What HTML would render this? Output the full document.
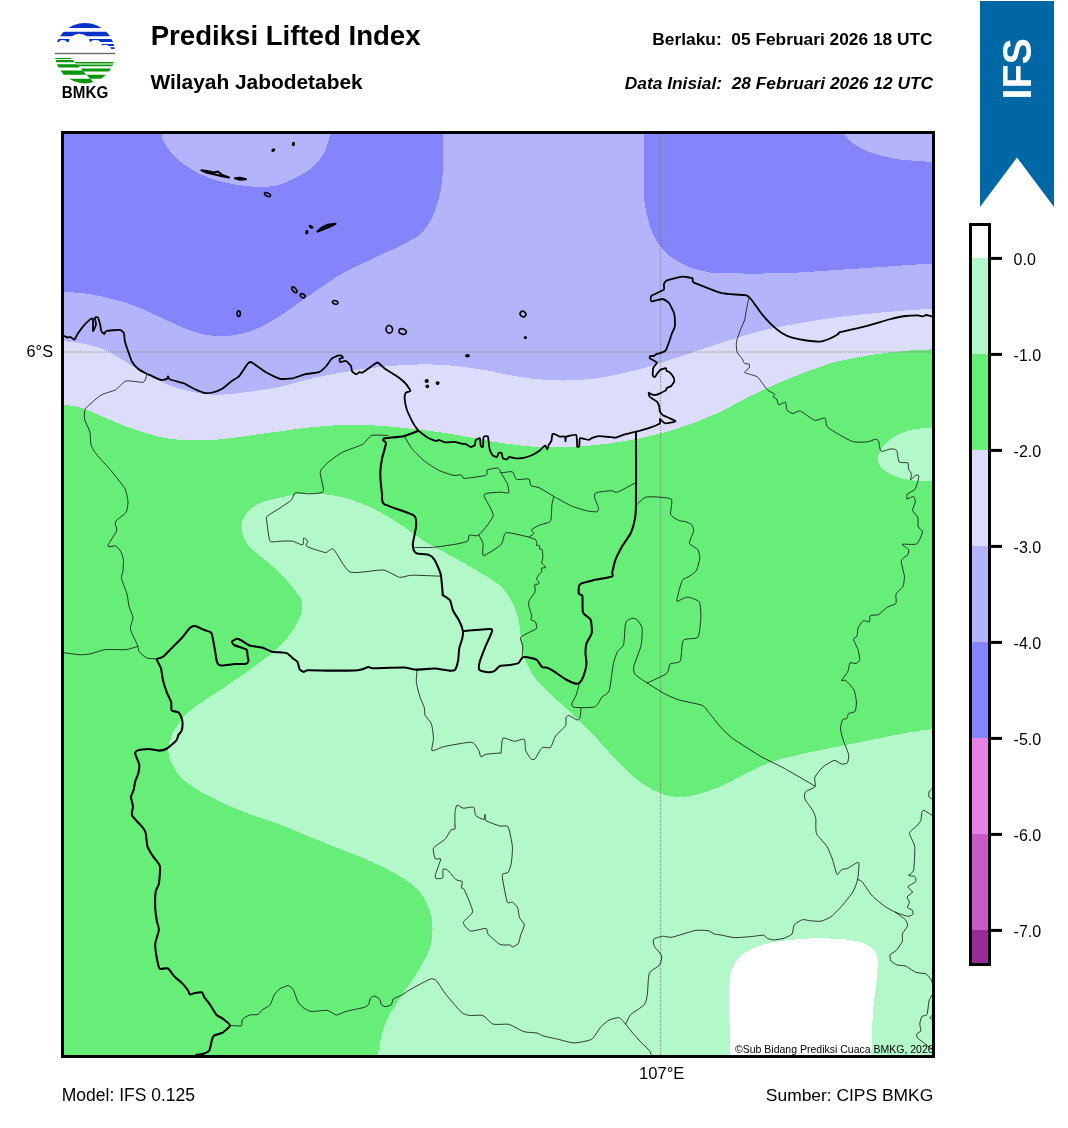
<!DOCTYPE html>
<html lang="id"><head><meta charset="utf-8"><title>Prediksi Lifted Index - Wilayah Jabodetabek</title>
<style>
html,body{margin:0;padding:0;background:#fff;}
body{width:1068px;height:1128px;position:relative;overflow:hidden;font-family:"Liberation Sans",sans-serif;}
svg text{font-family:"Liberation Sans",sans-serif;}
</style></head><body>
<svg width="1068" height="1128" viewBox="0 0 1068 1128" style="position:absolute;left:0;top:0">
<defs><clipPath id="mc"><rect x="64" y="134" width="868" height="921"/></clipPath></defs>
<g clip-path="url(#mc)">
<g shape-rendering="crispEdges">
<rect x="64" y="134" width="868" height="921" fill="#b4b4fc"/>
<path fill="#8484fc" d="M442.7,134C442.7,140.2 443,161.7 442.7,171C442.4,180.3 442.1,182.8 440.7,189.7C439.3,196.6 437.6,205.3 434.5,212.4C431.4,219.5 427.1,227.2 422,232.5C416.9,237.8 410.1,240.6 403.6,244.2C397.1,247.8 389.9,250.6 383,253.8C376.1,257 369.3,260.2 362.4,263.5C355.5,266.8 348.7,269.7 341.8,273.7C334.9,277.7 328.1,282.7 321.2,287.3C314.3,291.9 307.5,296.7 300.6,301.5C293.7,306.3 287.5,311.3 280,315.9C272.5,320.5 263.2,326.1 255.7,329.3C248.2,332.5 241.9,333.9 235,335C228.1,336.1 221.3,336.5 214.5,336C207.7,335.5 200.9,333.9 194,331.8C187.1,329.7 180.2,326.2 173.3,323.2C166.4,320.2 159.6,316.8 152.7,313.7C145.8,310.6 138.9,307.2 132,304.7C125.1,302.2 118.3,300.5 111.5,298.8C104.7,297.1 98.9,295.5 91,294.3C83.1,293.1 68.5,292.1 64,291.7L64,134Z"/>
<path fill="#b4b4fc" d="M162,134C162.2,135 161.5,136.9 163,140C164.5,143.1 167.6,148.7 171,152.7C174.4,156.7 178.8,160.4 183.6,164C188.4,167.6 193.8,171.1 200,174C206.2,176.9 213.1,179.5 220.7,181.5C228.3,183.5 237.8,185.2 245.4,186C253,186.8 260.2,186.8 266,186.6C271.8,186.4 274.2,186.5 280,184.6C285.8,182.7 294.8,178.6 300.6,175.3C306.4,172 310.9,169.1 315,165C319.1,160.9 322.8,155.8 325.3,150.6C327.8,145.4 329.4,136.8 330.2,134Z"/>
<path fill="#8484fc" d="M643.8,134C643.8,143.6 643.2,178.1 643.8,191.8C644.4,205.6 645.7,209.3 647.3,216.5C648.9,223.7 650.9,229.5 653.5,235C656.1,240.5 659.1,245.4 662.7,249.5C666.3,253.6 670.2,256.7 675,259.8C679.8,262.9 686.4,266.1 691.6,268C696.8,269.9 701.3,270.6 706,271.5C710.7,272.4 707.4,272.9 720,273.2C732.6,273.5 761.2,273.8 781.8,273.2C802.4,272.6 824.7,270.7 843.6,269.5C862.5,268.3 880.3,267 895,266C909.7,265 925.8,263.9 932,263.5L932,134Z"/>
<path fill="#b4b4fc" d="M843.6,134C845,135.4 847.7,139.5 851.8,142.4C855.9,145.3 861.1,148.9 868.3,151.6C875.5,154.3 884.4,157.1 895,158.8C905.6,160.5 925.8,161.5 932,162L932,134Z"/>
<path fill="#dcdcfc" d="M64,341.2C66.8,341.6 74.4,342.1 80.6,343.3C86.8,344.5 95.4,346.3 101.2,348.4C107,350.4 111.5,353.3 115.6,355.6C119.7,357.9 121.5,359.2 126,362C130.5,364.8 136.2,368.9 142.4,372.3C148.6,375.7 156.1,379.7 163,382.6C169.9,385.5 176.7,387.9 183.6,389.8C190.5,391.7 197.3,393.2 204.2,394C211.1,394.8 216.2,395 224.8,394.5C233.4,394 246.5,392.1 255.7,390.8C264.9,389.5 269.1,389.1 280,386.7C290.9,384.3 307.5,379.3 321.2,376.4C334.9,373.5 348.7,371.1 362.4,369.2C376.1,367.3 389.9,365.7 403.6,365C417.3,364.3 431.1,364.1 444.8,365C458.5,365.9 476.8,368.8 486,370.2C495.2,371.6 492.5,371.9 500,373.3C507.5,374.7 520.7,377.3 531,378.5C541.3,379.7 551.5,380.4 561.8,380.5C572.1,380.6 582.4,380 592.7,378.8C603,377.6 613.7,375.4 623.6,373.2C633.5,371 643.9,368.2 652.4,365.7C660.9,363.2 667.4,360.7 674.9,358.2C682.4,355.7 689.9,353.2 697.4,350.7C704.9,348.2 709.4,346.5 720,343.2C730.6,339.9 747.5,334.2 761.2,330.8C774.9,327.4 788.7,325 802.4,322.6C816.1,320.2 828.2,318.3 843.6,316.4C859,314.5 880.3,312.6 895,311.3C909.7,310 925.8,309.2 932,308.8L932,1055L64,1055Z"/>
<path fill="#66ee78" d="M64,404.6C66.8,405.1 74.4,405.8 80.6,407.7C86.8,409.6 94.3,413.1 101.2,416C108.1,418.9 114.9,422.1 121.8,424.8C128.7,427.5 135.5,429.9 142.4,432C149.3,434.1 156.1,436.3 163,437.6C169.9,438.9 175,439.5 183.6,439.9C192.2,440.3 204.2,440.5 214.5,439.9C224.8,439.3 234.5,437.6 245.4,436.2C256.3,434.8 267.4,432.9 280,431.3C292.6,429.7 307.5,427.4 321.2,426.3C334.9,425.2 348.7,424.5 362.4,424.8C376.1,425.1 389.9,426.5 403.6,427.9C417.3,429.3 431.1,430.9 444.8,433C458.5,435.1 476.8,438.7 486,440.3C495.2,441.9 492.5,441.8 500,442.8C507.5,443.8 520.7,445.8 531,446.5C541.3,447.2 551.5,447.2 561.8,447C572.1,446.8 582.4,446.3 592.7,445.4C603,444.4 613.3,443 623.6,441.3C633.9,439.6 644.2,437.6 654.5,435C664.8,432.4 674.5,429.7 685.4,425.9C696.3,422.1 710.8,416.1 720,412C729.2,407.9 733.7,404.5 740.6,401C747.5,397.5 754.3,394 761.2,390.8C768.1,387.6 774.9,384.5 781.8,381.6C788.7,378.7 795.5,375.9 802.4,373.3C809.3,370.7 816.8,368.1 823,366C829.2,363.9 830.9,362.9 839.5,361C848.1,359.1 863.5,356.2 874.5,354.5C885.5,352.8 895.8,351.7 905.4,350.8C915,349.9 927.6,349.6 932,349.4L932,1055L64,1055Z"/>
<path fill="#b2f8c8" d="M932,729C927.6,729.7 915,731.3 905.4,733C895.8,734.7 884.8,737.1 874.5,739.2C864.2,741.3 853.9,743.3 843.6,745.4C833.3,747.5 823,749.4 812.7,751.6C802.4,753.8 790.4,756.4 781.8,758.8C773.2,761.2 768.1,763.1 761.2,766C754.3,768.9 747.5,772.9 740.6,776.3C733.7,779.7 727.5,783.5 720,786.6C712.5,789.7 703.2,793.1 695.7,794.8C688.2,796.5 681.9,797.6 675,796.9C668.1,796.2 661.4,794 654.5,790.7C647.6,787.4 640.8,783 633.9,777.3C627,771.6 620.2,763.9 613.3,756.7C606.4,749.5 599.6,741.2 592.7,734C585.8,726.8 578.5,719.7 572,713.5C565.5,707.3 559.4,702.5 553.6,697C547.8,691.5 541.5,686 537,680.5C532.5,675 529.4,669.8 526.8,664C524.2,658.2 522.8,652 521.6,645.5C520.4,639 520.8,631.4 519.6,624.9C518.4,618.4 516.5,611.5 514.4,606.4C512.3,601.2 509.6,597.5 507.2,594C504.8,590.5 503.5,588.5 500,585.5C496.5,582.5 491.8,579.8 486,576.2C480.2,572.6 472.3,567.9 465.4,563.9C458.5,559.9 451.7,556.3 444.8,552.5C437.9,548.7 431.1,545.5 424.2,541.2C417.3,536.9 410.5,531.1 403.6,526.5C396.7,521.9 389.9,517.6 383,513.8C376.1,510 369.3,506.5 362.4,503.7C355.5,500.9 348.7,498.6 341.8,497C334.9,495.4 328.1,494.3 321.2,493.8C314.3,493.3 307.5,493.2 300.6,493.8C293.7,494.4 287.1,495.8 280,497.5C272.9,499.2 263.6,501.2 257.8,504C252,506.8 248.2,510.6 245.4,514.4C242.7,518.2 241.3,522.3 241.3,526.8C241.3,531.3 243,536.9 245.4,541.2C247.8,545.5 249.9,547.2 255.7,552.5C261.5,557.8 273,566.1 280,573C287,579.9 293.9,589.1 297.5,594C301.1,598.9 301.1,598.8 301.6,602.2C302.1,605.6 302.1,609.8 300.6,614.6C299.1,619.4 295.8,625.9 292.4,631C289,636.1 286.1,639.7 280,645.5C273.9,651.3 264.9,658.7 255.7,665.6C246.5,672.5 235.1,680 224.8,687C214.5,694 201.7,701.5 193.9,707.8C186.1,714 181.9,718.8 177.8,724.5C173.7,730.2 170.6,736.9 169.2,742.3C167.8,747.7 167.8,751.6 169.2,756.7C170.6,761.9 173.3,768.1 177.4,773.2C181.5,778.4 186,782.5 193.9,787.6C201.8,792.7 214.5,799.2 224.8,804C235.1,808.8 246.5,813.1 255.7,816.5C264.9,819.9 272.5,821.7 280,824.5C287.5,827.3 293.7,830.4 300.6,833.2C307.5,836 314.3,838.6 321.2,841.4C328.1,844.1 334.9,847 341.8,849.7C348.7,852.5 355.5,855 362.4,857.9C369.3,860.8 376.1,863.8 383,867.2C389.9,870.6 397.8,874.7 403.6,878.5C409.4,882.3 414.1,885.6 418,889.9C421.9,894.2 425,899.1 427.3,904.3C429.6,909.4 431.2,915.3 432,920.8C432.8,926.3 432.6,932.1 432,937.2C431.4,942.4 430.3,946.6 428.3,951.7C426.3,956.8 423.4,962.2 420,968C416.6,973.8 411.8,980.5 407.7,986.7C403.6,992.9 399,999.4 395.4,1005.2C391.8,1011 388.4,1016.2 386,1021.7C383.6,1027.2 382.4,1032.7 381,1038.2C379.6,1043.8 378.3,1052.2 377.8,1055L932,1055Z"/>
<path fill="#b2f8c8" d="M932,428C929.3,428.2 921.2,428 915.7,429C910.2,430 904.4,431.4 899.2,434C894.1,436.6 888.4,440.3 884.8,444.4C881.2,448.5 878,454.7 877.6,458.8C877.2,462.9 879.8,466.1 882.7,469C885.6,471.9 890.2,474.4 895,476.3C899.8,478.2 905.4,479.6 911.6,480.4C917.8,481.2 928.6,480.9 932,481Z"/>
<path fill="#ffffff" d="M730.3,1055C730.1,1047.7 729.5,1023.5 729.3,1011.4C729.1,999.3 728.8,989.8 729.3,982.6C729.8,975.4 730.5,972.5 732.4,968C734.3,963.5 736.8,959.2 740.6,955.8C744.4,952.4 748.8,949.9 755,947.5C761.2,945.1 769.8,942.8 777.7,941.4C785.6,940 794.9,939.4 802.4,938.9C809.9,938.4 815.5,938.2 823,938.3C830.5,938.4 840.8,938.9 847.7,939.7C854.6,940.6 859.9,941.8 864.2,943.4C868.5,945 871.3,946.9 873.5,949.6C875.7,952.4 877.1,954.8 877.6,959.9C878.1,965 877.3,973 876.6,980.5C875.9,988 874.3,996.6 873.5,1005.2C872.7,1013.8 872.4,1023.7 872,1032C871.6,1040.3 871.5,1051.2 871.4,1055Z"/>
</g>
<path d="M64,352H932M660.5,134V1055" fill="none" stroke="#707070" stroke-width="1.2" stroke-dasharray="1 1" opacity="0.7"/>
<g fill="none" stroke="#0a0a0a" stroke-width="0.8" stroke-linejoin="round" stroke-linecap="round">
<path d="M748.8,298C748.5,299.4 746.4,309.8 746,312C745.6,314.2 745.1,318.3 744.6,320C744.1,321.7 741.5,327.1 740.8,329C740,330.9 737.6,338 737.1,339.5C736.6,341 736.3,342.7 736.3,344C736.3,345.3 736.5,350.7 737.1,352.2C737.7,353.7 741.5,357.9 742.3,359C743,360.1 743.9,362.9 744.6,363.4C745.3,363.9 748.6,363.7 749.1,364.2C749.6,364.7 749.6,367.2 749.1,368C748.6,368.8 744.4,371.7 744.6,372.4C744.8,373.1 750,374.2 751.3,374.7C752.6,375.2 756.4,375.9 758,377.4C759.6,378.9 765.7,388.1 767.4,389.8C769.1,391.5 774,393.3 774.6,394C775.2,394.7 772.8,396.5 773,397C773.2,397.5 776,398.2 776.6,399C777.2,399.8 777.8,404.5 778.7,404.8C779.6,405.1 784.7,401.6 785.5,402.2C786.3,402.8 786.2,409.3 787,410.4C787.8,411.5 791.7,413.4 793,413.5C794.3,413.6 798.1,410.3 800.3,411C802.5,411.7 812.3,419.6 814.8,420.3C817.3,421 823.7,417.3 825,418C826.3,418.7 825.3,425.2 828,427.5C830.7,429.8 847.9,439.9 851.8,441.3C855.7,442.7 864.9,442.1 867.3,441.9C869.7,441.7 874.4,439.3 875.5,439.2C876.6,439.1 878.1,440.1 878.6,441.3C879.1,442.5 879.8,450.4 881,451.2C882.2,452 889.4,449 891,448.9C892.6,448.8 895.9,449.3 896.7,450.6C897.5,451.9 898.1,460.7 899.2,461.9C900.3,463.1 907,462.2 907.9,462.9C908.8,463.6 908.1,467.9 908.5,469C908.9,470.1 911.4,473.2 911.6,474.3C911.8,475.4 910.1,479.7 910.5,479.8C910.9,479.9 914.9,475.7 915.7,475.3C916.5,474.9 918.6,475.1 918.8,475.7C919,476.3 918.2,480.1 917.8,481.5C917.4,482.9 915.7,488.5 914.7,489.7C913.7,490.9 908.3,492.9 907.5,493.8C906.7,494.7 906.4,498.7 907,499C907.6,499.3 912.8,496.2 913.6,496.5C914.4,496.8 915.4,500.6 915.3,502C915.2,503.4 912.4,508.8 912.6,510.3C912.9,511.9 917.2,515.9 917.8,517.5C918.4,519.1 917.7,525.3 918.2,526.8C918.7,528.2 922.6,530.3 922.5,532C922.4,533.7 918.7,542.7 916.7,543.9C914.7,545.1 903.1,543.7 902.3,544.3C901.5,544.9 907.9,548.5 908.5,549.5C909.1,550.5 908.6,553.5 907.9,554.6C907.2,555.7 901.6,558.6 901.3,560.8C900.9,563 904.2,573.6 904.4,576.2C904.6,578.8 903.7,584.7 902.9,586.5C902.1,588.3 896.7,592.3 896,594C895.3,595.7 896.9,602 896,603.3C895.1,604.6 888.6,606.3 886.9,607.4C885.2,608.5 880.2,613.8 878.6,614.6C877,615.4 871.3,614.9 870.4,615.6C869.5,616.3 870,621.3 869.3,621.8C868.6,622.3 864.3,620.2 863.2,620.8C862.1,621.4 858.6,626.5 858,628C857.4,629.5 857.5,635.1 857,636.2C856.5,637.3 853.4,638 853.5,639.3C853.6,640.6 857.4,647.5 858,649.6C858.6,651.7 859.9,658.5 859.7,659.9C859.5,661.3 857,663.1 856,663.4C855,663.7 850.6,662.2 849.8,663C849,663.8 848.8,669.5 848,671.2C847.2,673 841.7,679.6 841.5,680.5C841.3,681.4 844.5,679.6 845.7,680.5C846.9,681.4 852.8,687.6 853.9,689.8C855,691.9 856.3,699.8 856.4,702C856.5,704.2 855.8,710.2 855,711.4C854.2,712.5 849.5,712.8 848.7,713.5C847.9,714.2 847.3,718 846.7,718.6C846.1,719.2 843.2,718.7 842.6,719.7C842,720.7 840.4,726.7 840.5,728.9C840.6,731.1 842.8,738.7 843.6,741.3C844.4,743.9 848.3,752.5 848.7,754.7C849.1,756.9 848,762 847.3,762.9C846.6,763.8 842.8,764.2 841.5,764C840.2,763.8 836.1,760.1 834.3,760.4C832.4,760.7 825,765.3 823,767C821,768.7 815.6,775.3 814.8,777.3C814,779.3 816.1,785.1 815.2,786.6C814.3,788.1 806.5,790.6 805.5,791.8C804.5,793 804.2,797.1 804.9,799C805.6,800.9 811.6,808.3 812.7,810.3C813.8,812.2 815.5,816.9 815.8,818.5C816.1,820.1 815.7,824.4 815.8,826C815.9,827.6 815.7,832.1 816.8,834.2C817.9,836.3 825.5,844.1 827,846.6C828.5,849.1 831.3,856.2 832.3,859C833.3,861.8 836.1,873.3 837,874.4C837.9,875.5 840.4,870.3 841.5,869.7C842.6,869.1 846.2,868.9 847.7,868.2C849.2,867.5 855.9,863.1 857,862.7C858.1,862.3 858.9,862.3 859,864C859.1,865.7 858.2,876.8 857.6,879.6C857,882.4 854.5,889.2 852.9,891.9C851.3,894.6 843.7,903.8 841.5,906.3C839.3,908.8 833.2,915.1 831.2,916.6C829.2,918.1 823.1,920.8 821,921.2C818.9,921.6 812.5,920.9 810.6,920.8C808.7,920.6 804,919.3 802.4,919.7C800.8,920.1 795.2,923.5 794.2,924.9C793.2,926.3 793,932.7 792,934C791,935.3 785.7,937.7 783.9,938.3C782.1,938.9 775.2,939.9 773.6,939.9C772,939.9 768.4,938.8 767.4,938.3C766.4,937.8 764.9,935.4 763.3,935.2C761.6,935 753.8,936.4 750.9,936.6C748,936.8 737.5,937.8 734.4,937.6C731.3,937.4 722,935.2 720,934.8C718,934.4 715.4,934.4 714.2,934C713,933.6 710,930.9 708,930.6C706,930.3 698.3,929.9 694.7,930.6C691.1,931.3 675.2,936.6 672,937.2C668.8,937.8 664.6,936 662.7,936.2C660.9,936.4 654.3,938.3 653.5,939.3C652.7,940.3 653.7,944.9 654.5,946.5C655.3,948.1 661.2,953.9 661.7,955.8C662.2,957.6 660.8,963.2 659.6,965C658.4,966.8 650.5,970.3 649.3,973.3C648.1,976.3 647.8,991.8 647.3,994.9C646.8,998 645.9,1002.8 644.2,1004.8C642.6,1006.8 632.6,1012.6 630.8,1014.5C628.9,1016.4 626.2,1023.2 625.7,1024.2M146.5,375.4C146.2,376.1 145.5,381.6 143.4,382.2C141.3,382.8 128.8,380.2 126,381C123.2,381.8 118.1,388.4 115.6,389.8C113.1,391.2 103.9,393.4 101.2,395C98.5,396.6 90.5,403.8 88.8,405.3C87.1,406.8 85.1,409 84.7,410.4C84.3,411.8 84.2,417.5 84.7,419.7C85.2,421.9 89.3,429.5 89.9,432C90.5,434.5 90.3,442.2 90.9,444.4C91.5,446.6 93.9,451 96,453.7C98.1,456.4 108.6,467.7 111.5,471.2C114.4,474.7 123.2,485.6 124.9,488.7C126.6,491.8 127.9,499.6 128,502C128.1,504.4 127.1,510.6 126,512.4C124.9,514.2 117.7,519.1 116.6,520.2C115.5,521.3 115.2,522.6 115.2,523.7C115.2,524.8 117.3,528.8 116.6,530.9C115.9,533 109.2,542.7 108.4,544.3C107.6,545.9 108.3,546.6 109,546.8C109.7,547 114.4,545.5 115.6,546C116.8,546.5 120,550.1 120.8,551.5C121.6,552.9 123.2,557.8 123.4,559.8C123.6,561.8 123,570.1 122.8,572C122.6,573.9 121,576.1 121.4,578.3C121.8,580.5 126.2,591.2 127,594C127.8,596.8 128.4,604 129,606.4C129.6,608.8 132.9,615.4 133,617.7C133.1,620 130,626.3 130.4,629C130.8,631.7 136.3,642.2 137.2,644.5C138.1,646.8 138.4,650.4 139.3,651.7C140.2,653 144.8,657.2 146.5,657.9C148.2,658.6 155.8,658.8 156.8,658.9M137.2,646.5C136.1,646.8 129.2,649.3 126,649.6C122.8,649.9 108.8,649.2 105.3,649.6C101.8,650 93.4,653.2 90.9,653.7C88.4,654.2 83.3,654.9 80.6,654.8C77.9,654.7 65.7,652.9 64,652.7M388,435.5C386.4,435.5 374.3,434.6 371.7,435.5C369.1,436.4 365.4,442.7 362.4,444.4C359.4,446.1 345.3,450.7 341.8,452.6C338.3,454.5 329.6,461 327.4,463C325.2,465 320.6,469.4 320.2,472.2C319.8,475 324.4,489.2 323.3,491.4C322.2,493.6 311.6,493.7 308.8,493.8C306,493.9 297.1,492.2 295.4,492.8C293.6,493.4 292.8,498.5 291.3,500C289.8,501.5 282.4,506.4 280,508C277.6,509.6 268.3,515 267,516.5C265.7,518 266.7,520.2 267,522.7C267.3,525.2 268.7,539.1 270,541C271.3,542.9 277.8,541.2 280,541.2C282.2,541.2 290.1,540.8 292.4,541.2C294.7,541.6 301.6,545.3 302.7,545C303.8,544.7 303.2,538.4 303.7,538C304.2,537.6 307.5,540.4 307.8,541.2C308.1,542 305.1,545.3 306.8,546.4C308.6,547.5 322.6,552.2 325.3,552.5C328,552.8 331.1,547.4 333.6,549.4C336.1,551.4 345.1,569.9 350,572C354.9,574.1 378.1,569.5 383,570C387.9,570.5 396.6,576.8 399.5,577.3C402.4,577.8 407.7,575.3 411.8,575.2C415.9,575.1 437.8,576.1 440.7,576.2M404.6,436.6C405.3,437.8 409.8,446.1 411.8,448.5C413.8,450.9 421.5,458.7 424.2,460.9C426.9,463.1 435.7,468.8 438.6,470.2C441.5,471.6 450.7,474.8 453,475.3C455.3,475.8 460.2,474.6 461.3,474.9C462.4,475.2 461.9,478.4 464.4,478.4C466.9,478.4 483.7,476.1 486,475.3C488.3,474.5 485.9,470.7 487,470C488.1,469.3 496,468 497.3,468C498.6,468 499.6,469.5 500,470C500.4,470.5 499.8,472.6 501,472.8C502.2,473 510.8,471.1 512.4,471.8C513.9,472.5 514.9,478.7 516.5,479.4C518.1,480.1 527.4,478.4 528.8,479C530.2,479.6 529.9,484.7 530.9,485.6C531.9,486.5 536.6,486.6 539,487.7C541.4,488.8 552.7,495.8 554.6,496.9C556.5,498 556,497.7 557.7,498.6C559.4,499.5 569.1,505 572,506.2C574.9,507.4 584,510.1 586.5,510.7C589,511.3 595.6,512 596.8,511.8C598,511.6 598.7,509.7 598.5,508.3C598.3,506.9 595.1,499.6 594.8,498C594.5,496.4 594.2,493.5 595.8,492.8C597.4,492.1 609,490.8 611.2,490.7C613.4,490.6 615,493 617.4,492.2C619.8,491.4 633.2,483.9 635,483M501,472.8C501.6,473.9 506.4,481.5 507.2,483.5C508,485.5 509.4,491.9 508.7,492.8C508,493.7 502.5,492 500,492.2C497.5,492.4 484.7,492.6 484,494.9C483.3,497.2 493.7,511.5 493.2,515.5C492.7,519.5 481.2,533 478.8,535C476.4,537 470.6,534.4 469.5,535C468.4,535.6 468.9,540.3 467.5,541.2C466.1,542.1 458.5,543.7 455,544.3C451.5,544.9 436.4,547.1 432.4,547.4C428.4,547.7 416.7,547.4 415,547.4M478.8,535C479.2,535.8 482.5,541.2 483,543.3C483.5,545.4 481.7,555.5 483.5,555.6C485.3,555.7 498.7,546.9 501,544.6C503.3,542.3 503.4,533.4 506.2,532.7C509,532 527.1,536.8 529.4,537.2M553.7,496.7C553.5,497.5 552.2,502.5 551.9,504.9C551.6,507.3 551.7,519.1 550.4,521.1C549.1,523.1 541.1,524.3 539.2,525.2C537.3,526.1 532.2,528.9 531.7,529.7C531.2,530.5 533.8,532.9 533.9,533.4C534,533.9 532.9,534.5 532.4,534.9C531.9,535.3 529.1,536.8 529.4,537.2C529.7,537.7 534.6,538.8 535.4,539.4C536.1,540 536.8,542.5 536.9,543.1C537,543.7 536,545.2 536.2,545.4C536.4,545.6 538.8,545 539.2,545.4C539.6,545.8 539.6,548.6 539.9,549.1C540.2,549.6 541.9,549.1 542.2,549.9C542.5,550.7 542.9,556.1 542.9,557.4C542.9,558.7 541.6,561.9 541.7,562.6C541.8,563.4 543.3,564.4 543.7,564.9C544.1,565.4 545.8,567.3 545.6,567.6C545.4,567.9 541.8,567.8 541.4,568.2C541,568.6 542,570.9 541.7,571.6C541.4,572.3 538.9,574.6 538.4,575.4C537.9,576.1 536.5,578.4 536.6,579.1C536.7,579.8 539.1,582.3 539.2,582.8C539.3,583.3 538.2,584.1 537.7,584.3C537.2,584.5 535,583.9 534.7,584.6C534.4,585.4 535.6,590.2 535.1,591.8C534.6,593.3 530,598.8 529.4,600.1C528.8,601.5 528.5,603.7 528.7,605.3C528.9,606.9 531.5,614.4 531.7,615.8C531.9,617.2 530.5,618.9 530.9,619.5C531.3,620.1 534.8,621 535.4,621.8C536,622.6 537,627.1 536.9,627.9C536.8,628.7 535.6,629.1 534,630C532.4,630.9 521.7,635.8 520.6,637.3C519.5,638.8 522.5,643.5 522.7,645.5C522.9,647.5 522.2,655.7 522.2,656.8M637,504.5C637.9,503.8 642.9,497.6 646.3,497C649.7,496.4 668.6,497.3 671,499C673.4,500.7 669.8,512.2 670.6,514.4C671.4,516.6 677.7,519.9 679.2,520.6C680.7,521.3 684.2,521.2 685.4,521.6C686.6,522 690.8,523.8 691.6,524.7C692.4,525.6 693.8,529 693.6,530.9C693.4,532.8 689.1,541.4 689.5,543.3C689.9,545.2 696.8,548.1 697.8,549.5C698.8,550.9 699.9,555.7 699.8,557.7C699.7,559.8 697.7,568.1 696.7,570C695.7,571.9 690.9,575.2 689.5,576.2C688.1,577.2 683.4,578.6 682.3,580.4C681.2,582.2 678.7,591.9 678.2,594C677.7,596.1 676.3,600.9 677.2,601.2C678.1,601.5 685.3,596.9 687.5,597C689.7,597.1 698.1,600 699.4,602.2C700.7,604.4 701,615.2 700.8,618.7C700.6,622.2 699.5,635.1 697.8,637.3C696,639.5 685,637.9 683.3,640.3C681.5,642.7 681.6,658.6 680.3,661C679,663.4 671.3,662.8 670,664C668.7,665.2 669.2,671.4 666.9,673.3C664.6,675.2 649.3,682 647.3,683M579.3,683.6C579,684.7 576.9,693 576.2,695C575.5,697 572.2,702 572,703.2C571.8,704.4 571.9,706.9 574.2,707.3C576.5,707.7 592,707.9 594.8,706.9C597.6,705.9 600.6,698.6 602,697C603.4,695.4 608.1,694.1 609.2,690.8C610.3,687.5 612.5,667.9 613.3,664C614.1,660.1 616.4,653.7 617.4,651.7C618.4,649.8 622.8,647.4 623.6,644.5C624.4,641.6 624.9,625.4 625.7,622.8C626.5,620.2 630.7,618.6 631.8,618.3C632.9,618 636,618.7 637,619.7C638,620.7 641.7,625.4 642.1,628C642.5,630.6 641.9,641.7 641.1,645.5C640.3,649.3 634.5,663.1 633.9,666C633.3,668.9 633.7,672.6 635,674.3C636.3,676 644.3,681 647.3,683C650.3,685 661.6,692.2 664.8,693.9C668,695.6 675.5,698.9 679.2,700C682.9,701.1 699,704.1 701.9,705.2C704.8,706.3 706.2,709.3 708,711.4C709.8,713.5 717.6,723.7 720,726.4C722.4,729.1 728.3,735.2 732.4,738.2C736.5,741.2 756.3,753.8 761.2,756.7C766.1,759.6 776.4,764.1 781.8,767C787.2,769.9 811.5,784.1 814.8,786M581,708.3C580.9,709.2 580.4,716.4 580,717.6C579.6,718.8 578.3,720.2 577.2,720C576.1,719.8 570.1,715.7 569,715.5C567.9,715.3 566.4,716.6 566,717.6C565.6,718.6 566.5,724 565.5,725.8C564.5,727.6 557.1,733.8 555.6,736C554.1,738.2 551.8,746.4 550.5,747.5C549.2,748.6 543.8,746.4 542.2,747.5C540.7,748.6 536.1,757.7 535,758.8C533.9,759.9 531.8,759.6 530.9,758.8C530,758 526.4,752.6 525.7,750.6C525,748.6 525.4,740.1 524.3,739.2C523.2,738.3 516.5,741.4 514.4,741.3C512.3,741.2 504.3,737.1 503,738.2C501.7,739.3 501.3,751.1 501,752.6C500.7,754.1 501.5,752.8 500,753C498.5,753.2 487.9,753.9 486,754.3C484.1,754.7 481.5,757.1 480.8,756.7C480.1,756.3 479.7,752 478.8,750.6C477.9,749.2 475,742.7 471.6,742.3C468.2,741.9 448.8,745.6 444.8,746.4C440.8,747.2 433.1,751.4 432,750.6C430.9,749.8 433.6,740.9 433.5,738.2C433.4,735.5 432.2,726.1 431.4,723.8C430.6,721.5 425.9,717.1 425.2,715.5C424.5,713.9 424.7,709.1 424.2,707.3C423.7,705.4 420.8,699.5 420,697C419.2,694.5 416.7,685.3 416.4,682.6C416.1,679.9 416.9,671.4 417,670.2M455,826C455,824.6 454.8,814.5 455,812.4C455.2,810.3 456.2,805.4 457,805C457.8,804.6 461.6,808 463.3,808.2C465,808.4 472.4,806.5 473.6,807.2C474.8,807.9 474.7,814.2 475.7,815.4C476.7,816.6 483.1,819.7 484,819.6C484.9,819.5 484.8,814.3 485,814.4C485.2,814.5 484.5,819.4 486,820.6C487.5,821.8 497.8,825.4 500,826C502.2,826.6 507,824.9 508.2,827C509.4,829.1 512.1,843 512.4,846.6C512.7,850.2 511.7,860.4 511.3,863C510.9,865.6 509,871.2 508.2,872.3C507.4,873.4 503.6,873.2 503,873.8C502.4,874.4 502.1,875.7 502.5,878.5C502.9,881.3 506.2,899.4 507.2,901.8C508.2,904.2 511.4,901.6 512.4,902.2C513.4,902.8 516.8,905.9 517.5,907.4C518.2,908.9 518.9,916 519.6,917.7C520.3,919.5 524.2,923.1 524.3,924.9C524.4,926.6 521.2,933.4 520.6,935.2C520,937.1 519.3,942.2 518.5,943.4C517.7,944.6 513.2,946.8 512.4,947C511.6,947.2 511.5,945.3 510.3,945C509.1,944.7 502.2,945.5 500,944.4C497.8,943.3 489.4,935.6 488,934C486.6,932.4 487.8,928.7 486,928.4C484.2,928.1 472.8,931.6 470.5,931C468.2,930.4 463.1,924.4 463.3,922.4C463.5,920.4 472.5,914.8 472.6,911.5C472.7,908.2 465.5,892.3 464.4,889.9C463.3,887.5 461.5,888.6 461.3,887.8C461.1,887 462.8,882.4 462.3,881.6C461.8,880.8 457.4,880.7 456,879.6C454.6,878.5 449.2,871.3 447.9,870.3C446.6,869.3 443.5,868.5 443,869.3C442.5,870.1 443.4,877 442.7,877.9C442,878.8 436.7,878.9 436,878.5C435.3,878.1 435,876.4 435.5,874.4C436,872.4 440.7,860.5 440.7,859C440.7,857.5 436.2,860.1 435.5,859C434.8,857.9 432.6,850.2 433.5,848.2C434.4,846.2 443.1,841.2 444.8,839.4C446.6,837.6 450,831 451,830C452,829 454.6,829.4 455,829C455.4,828.6 455,826.3 455,826M230,1025.4C231.1,1025.4 240.1,1026.4 241.3,1025.8C242.5,1025.2 241.5,1020.7 242.3,1019.6C243.1,1018.5 247.9,1015.5 249.5,1015C251.1,1014.5 256.5,1015.1 257.8,1014.5C259.1,1013.9 261.7,1010.2 262.9,1009.3C264.1,1008.4 268.9,1006.6 270,1005.2C271.1,1003.8 273.2,996.6 274.2,995C275.2,993.4 278.6,989.6 280,988.7C281.4,987.8 286.9,985.5 288.2,985.6C289.5,985.7 292.5,988.3 293.4,989.8C294.3,991.3 296.6,999.2 297.5,1001C298.4,1002.8 301.3,1006.3 302.7,1007.3C304.1,1008.3 308.5,1011.1 311,1011.4C313.5,1011.7 324.8,1010 327.4,1010.4C330,1010.8 334.7,1014.9 336.6,1015C338.5,1015.1 343.2,1012.2 346,1011.4C348.8,1010.6 362.2,1008 364.5,1007.3C366.8,1006.6 368,1005.1 368.6,1004.2C369.2,1003.3 370,998.8 370.6,998C371.2,997.2 373.9,995.8 374.8,996C375.7,996.2 379.4,998.9 380,999.7C380.6,1000.5 380.5,1003.5 381,1004.2C381.5,1004.9 384,1006.5 385,1006.6C386,1006.7 390.4,1005.6 391.2,1004.8C392,1004 392.3,1000 393.3,999C394.3,998 399.9,996.2 401.5,995.3C403.1,994.4 407.5,991.1 409.8,989.8C412.1,988.5 422,983.1 424.2,982C426.4,980.9 430.2,978.9 431.4,978.8C432.6,978.7 435.3,979.5 436.6,980.9C437.9,982.3 443,990.5 444.8,992.9C446.6,995.3 453.2,1003.2 455,1005.2C456.8,1007.2 460.9,1012 462.3,1013C463.8,1014 467.4,1015.2 469.5,1015.5C471.6,1015.8 480.6,1014.7 482.9,1015.5C485.2,1016.3 490.5,1022.9 492.2,1023.8C493.9,1024.7 498.3,1024.3 500,1024.4C501.7,1024.5 506.9,1023.7 509.3,1024.4C511.7,1025.1 520.9,1030.7 523.7,1031.6C526.5,1032.5 535,1032.6 537,1033C539,1033.4 541.2,1035.4 543.3,1036C545.4,1036.6 554.6,1038.5 557.7,1039.2C560.8,1039.9 570.8,1042.9 574.2,1042.9C577.6,1042.9 589,1040.8 591.7,1039.2C594.4,1037.6 599.1,1028.7 600.9,1026.8C602.6,1024.9 607.4,1020.9 609.2,1020C611,1019.1 617.3,1017.6 618.5,1017.6C619.7,1017.6 620.8,1018.9 621.5,1019.6C622.2,1020.3 624.7,1023 625.7,1024.2C626.7,1025.4 630.2,1030.1 631.8,1032C633.4,1033.9 640.4,1041.5 642.1,1043.3C643.9,1045.1 648.4,1049.3 649.3,1050.5C650.2,1051.7 651.2,1054.5 651.4,1055M857.6,879.6C858,879.8 860.5,880 862,881.6C863.5,883.2 870.1,893.5 872.4,896C874.7,898.5 882.5,904.7 884.8,906.3C887.1,907.9 892.7,911 895,912C897.3,913 905.7,915.9 907.5,916.2C909.3,916.5 912.1,915.2 912.6,914.6C913.1,914 913.1,911.2 912.6,910.5C912.1,909.8 907.8,908.2 907.5,907.4C907.2,906.6 909.5,903.2 909.5,902.2C909.5,901.2 906.7,898 907,897C907.3,896 912.5,893 912.6,892C912.7,891 907.6,887.8 907.9,886.8C908.2,885.8 915,882.6 915.7,881.6C916.4,880.6 915.4,877.1 914.7,876.5C914,875.9 908.6,876 908.5,875.4C908.4,874.8 913,873.2 913.6,870.3C914.2,867.4 915.1,850.3 914.7,846.6C914.3,842.9 909.3,835.3 909.5,833.2C909.7,831.1 915.6,827.3 916.7,826C917.8,824.7 920.3,822 920.8,820.6C921.3,819.2 921.6,813.4 921.9,812.4C922.2,811.4 923,810 924,810.3C925,810.6 931.2,814.9 932,815.4M895,912C896,912.8 904.1,918.3 905.4,919.7C906.6,921.1 907.8,924.5 907.5,925.9C907.2,927.3 902.8,932.5 902.3,934C901.8,935.5 902.9,939.7 902.3,941.4C901.7,943.1 897.2,949.3 896,950.6C894.8,951.9 890.5,953.7 890,954.7C889.5,955.7 890.3,959.9 891,960.9C891.7,961.9 895.6,964.5 897,965C898.4,965.5 903.5,965.3 905.4,966C907.3,966.7 913.6,971.5 915.7,972.3C917.8,973.1 924.5,973.2 926,973.9C927.5,974.6 930.4,978.6 931,979.5C931.6,980.4 931.9,982.3 932,982.6M932,995C931.7,995.6 929.5,999 929,1001C928.5,1003 927.7,1013 927,1014.5C926.3,1016 922.6,1015.6 921.9,1016.5C921.2,1017.4 919.9,1022.3 919.8,1023.8C919.7,1025.2 921.1,1030 920.8,1031C920.5,1032 917,1033.3 916.7,1034C916.4,1034.7 916.9,1037.2 917.8,1038.2C918.7,1039.2 924.6,1043.3 926,1044.4C927.4,1045.5 931.4,1049 932,1049.5M932,788.7C931.7,789 929.3,791 929,791.8C928.7,792.6 928.7,796.2 929,796.9C929.3,797.6 931.7,798.8 932,799M932,1015.5C931.8,1015.7 930,1017.2 930,1017.6C930,1018 931.8,1019.4 932,1019.6"/>
</g>
<g fill="none" stroke="#000" stroke-width="2.05" stroke-linejoin="round" stroke-linecap="round">
<path d="M418,431C416.6,431.5 406.9,435.5 403.6,436.2C400.3,436.9 387.1,437.8 385,438.2C382.9,438.6 382.9,439.8 383,440.3C383.1,440.8 386.1,441.5 386,443.4C385.9,445.2 382.6,455.8 382,458.8C381.4,461.8 380.3,469.7 380.3,473.2C380.3,476.7 381.6,490.7 382,493.8C382.4,496.9 380.8,501.8 384,504C387.2,506.2 410.7,513.2 413.9,515.5C417.1,517.8 416.1,524 416,526.8C415.9,529.6 413.1,540.9 412.9,543.3C412.7,545.7 413.5,549.5 413.9,550.5C414.3,551.5 415.6,553.2 417,553.6C418.4,554 426.6,554 428.3,554.6C430.1,555.2 433.3,557.8 434.5,559.8C435.7,561.8 439.9,570.8 440.7,574.2C441.5,577.6 442.5,591.9 442.7,594C442.9,596.1 442,594.4 442.7,595C443.4,595.6 449,598.7 450,600.2C451,601.8 452.1,608.4 453,610.5C453.9,612.6 458.2,618.8 459.2,620.8C460.2,622.8 462.6,629.2 462.9,631C463.2,632.8 462.7,636.5 462.3,638.3C461.9,640.1 459.6,646.4 459.2,648.6C458.8,650.8 458.6,657.9 458.2,660C457.8,662.1 455.9,668.7 455,669.8C454.1,670.9 450.9,670.7 448.9,670.6C446.8,670.5 437.8,668.7 434.5,668.6C431.2,668.5 419.1,669.7 416,669.6C412.9,669.5 407.9,667.6 403.6,667.5C399.3,667.4 376.2,668.2 372.7,668.2C369.2,668.2 369.6,666.9 368.6,667C367.6,667.1 363.8,668.8 362.4,669.2C361,669.6 357.3,670.5 354.2,670.6C351.1,670.7 336.1,670.6 331.5,670.6C326.9,670.6 310.6,670.1 307.8,670.2C305,670.3 304.5,672 303.7,671.9C302.9,671.8 300.2,670.2 299.6,669.2C299,668.2 298.2,663.1 297.5,662C296.8,660.9 293.4,658.8 292.4,657.9C291.4,657 288.4,653.9 287.2,653.3C286,652.7 281.5,652.5 280,652.3C278.5,652.1 273.8,652.2 272,651.7C270.2,651.2 264.1,648.2 261.9,647.6C259.6,647 251.5,646.2 249.5,645.5C247.5,644.8 243.5,641.7 242.3,641C241.1,640.3 238.2,638.7 237.2,638.7C236.2,638.7 232.3,640.8 232,641.4C231.7,642 232.6,644.2 234,645C235.4,645.8 245.1,648.5 246.4,649.6C247.8,650.7 247.3,654.7 247.5,655.8C247.7,656.9 248.7,660.2 248.5,661C248.3,661.8 246.8,663.7 245.4,664C244.1,664.3 237.5,663.9 235,664C232.5,664.1 222.5,665.7 220.7,665.5C218.9,665.3 217.6,663.8 217,662C216.4,660.2 215.1,650.5 214.5,647.6C213.9,644.7 212.4,634.8 211.4,633C210.4,631.2 205.8,630.7 204.2,630C202.6,629.3 196.4,626.2 195,626C193.6,625.8 191.2,626.8 189.8,628C188.5,629.2 183.4,636.2 181.5,638.3C179.6,640.4 173,646.8 171.2,648.6C169.3,650.5 164.4,655.7 163,656.8C161.6,657.9 157,658.2 156.8,659.3C156.6,660.4 160.4,666.1 161,668.2C161.6,670.3 162.4,678 163,680.5C163.6,683 166.2,690.8 167,692.9C167.8,695 170.7,700.2 171.2,702C171.7,703.8 170.9,709.4 171.6,710.4C172.3,711.4 177.4,711.7 178.4,712.4C179.4,713.1 181.1,716.5 181.5,717.6C181.9,718.7 182.6,722.1 182.6,723.4C182.6,724.7 181.9,729.8 181.5,731C181.1,732.2 178.9,734.1 178.4,735C177.9,735.9 177.5,738.9 176.4,740.3C175.3,741.6 168.8,747.5 167,748.5C165.2,749.5 160.7,750.6 158.9,750.6C157.1,750.6 150.8,748.9 148.6,748.9C146.4,748.9 138.5,750.1 137.2,750.6C135.9,751.1 135,752.2 135.2,753.6C135.4,755 139,763 139.3,765C139.6,767 138.7,771.6 138.3,773.2C137.9,774.9 135.7,779.9 135.2,781.5C134.7,783.1 134.1,788.2 133.7,789.7C133.3,791.2 131.1,795.2 131,796.9C130.9,798.5 132.9,804.4 133,806.2C133.1,808.1 131.2,813.4 132,815.4C132.8,817.4 140.1,824.3 141.4,826C142.8,827.7 144.9,830.1 145.5,832.2C146.1,834.3 146.8,844.2 147.5,846.6C148.2,849 151.5,853.9 152.7,855.9C153.9,857.9 159.3,863.4 159.9,866.2C160.5,869 159.3,881.2 158.9,883.7C158.5,886.2 156.2,888.5 155.8,890.9C155.4,893.3 155.1,904.4 155.2,907.4C155.3,910.4 156.4,918.5 156.8,920.8C157.2,923.1 159.1,927.6 158.9,930C158.7,932.4 155.3,941.1 155.2,944.4C155.1,947.7 157.3,960.6 157.8,963C158.3,965.4 158.9,968.2 159.9,968.8C160.9,969.3 166.6,967.7 168,968.5C169.4,969.3 173,975 174.3,976.4C175.7,977.8 180.2,981.3 181.5,982.6C182.8,983.9 186.8,988.6 187.7,989.8C188.5,991 189.3,994.2 190,994.5C190.7,994.8 193.8,993.1 195,992.9C196.2,992.7 201.1,992 202,992.4C202.9,992.8 203.4,995.7 204.2,997C205,998.3 209.2,1003.4 210.4,1005.2C211.6,1007 215.4,1013.7 216.6,1015C217.8,1016.3 221.4,1017.6 222.7,1018.6C224,1019.6 230,1024 230,1025.4C230,1026.8 224.3,1031.5 222.7,1032.6C221,1033.7 214.6,1035 213.5,1036C212.4,1037 211.8,1040.8 211.4,1042.3C211,1043.8 210,1049.4 209.3,1050.5C208.6,1051.6 205.5,1053.1 204.2,1053.6C202.9,1054 196.8,1054.9 196,1055M462.9,631C465.6,630.8 487.1,628.9 490,629C492.9,629.1 492.3,630.1 491.8,632C491.3,633.9 486.3,644.4 485,647.6C483.7,650.8 479.7,661.7 479.2,664C478.7,666.3 478.9,669.4 479.8,670.2C480.7,671 486.6,672.2 488,672.3C489.4,672.4 493,671.8 494.2,671.2C495.4,670.6 498.4,666.6 500,666C501.6,665.4 508.4,665.3 510.3,665C512.1,664.7 517.3,663.8 518.5,663C519.7,662.2 521.5,657.9 522.7,657.4C524,656.9 529.6,657.6 531,657.9C532.4,658.2 535.9,659.1 537,660C538.1,660.9 541,666.2 542,667C543,667.8 546.2,667.3 547.4,667.7C548.6,668.1 551.7,670 553.6,671.2C555.5,672.4 563.9,678.3 566,679.5C568.1,680.7 572.9,682.9 574.2,683.2C575.5,683.6 578.4,683.7 579.3,683C580.2,682.3 582.7,678.3 583.4,676.4C584.1,674.5 586.3,666.3 586.5,664C586.7,661.7 585.5,655.8 585.5,653.7C585.5,651.6 585.9,645.5 586.5,643.4C587.1,641.3 591.3,635.4 591.7,633C592.1,630.6 591.5,621.8 590.6,619.7C589.7,617.7 583.8,614.9 583,612.5C582.2,610.1 582.8,597.9 582.4,596C582,594.1 579.2,595 578.9,594C578.5,593 578.6,587.6 578.9,586.5C579.1,585.4 580,584 581.4,583.4C582.8,582.8 589.7,581.1 592.7,580.4C595.7,579.7 609.8,577.4 611.8,576.6C613.8,575.8 611.9,573.7 612.3,572C612.7,570.3 614.5,562.3 615.4,559.8C616.3,557.3 620,550.1 621.5,547.4C623,544.7 629.4,535.9 630.8,533C632.1,530.1 634.5,521.5 635,518.6C635.5,515.7 635.9,512.7 636,504C636.1,495.3 636,439.2 636,432"/>
</g>
<g fill="none" stroke="#000" stroke-width="1.8" stroke-linejoin="round" stroke-linecap="round">
<path d="M64,336C64.3,336.1 67.7,337.4 68.2,337.5C68.7,337.6 70,336.8 70.5,337C71,337.2 73.8,339.8 74.4,339.6C75,339.4 76.8,335 77.5,334C78.2,333 81.7,328 82.7,326.8C83.7,325.6 89.1,320.2 89.9,319.6C90.7,319 92.8,318.1 93,319C93.2,319.9 92.8,330.5 93,331C93.2,331.5 95.8,325.8 96,324.7C96.2,323.6 94.8,318.1 95,317.5C95.2,316.9 97.6,316.9 98,317.5C98.4,318.1 99.9,323.6 100.2,324.7C100.5,325.8 100.9,330.3 101.2,331C101.5,331.7 103.9,334 104.3,334C104.7,334 105.1,331.3 106.3,331C107.5,330.7 118.3,329.7 119.7,329.9C121.1,330.1 123.5,332.1 123.9,333C124.3,333.9 124.5,339.6 124.9,341.2C125.3,342.8 128.4,352 129,353.6C129.6,355.2 131.3,360.6 132,361.8C132.7,363 137.1,368 138.3,369C139.5,370 145.5,373.2 146.5,373.7C147.5,374.2 149.4,374.9 150.6,375.4C151.8,375.9 159.7,379.7 161,380C162.3,380.3 166.4,379.2 167,378.9C167.6,378.6 167.8,376.4 168,376.4C168.2,376.4 168.8,379 170,379.5C171.2,380 182.3,382.8 183.6,383.2C184.9,383.6 185.2,384 186,384.4C186.8,384.8 192.5,388.1 194,388.8C195.5,389.5 202.7,392.6 204.2,392.9C205.7,393.2 210.9,392.9 212.4,392.5C213.9,392.1 221.2,389.3 222.7,388.4C224.2,387.5 229.7,382.6 231,381.6C232.3,380.6 238,377.3 239,376.4C240,375.5 242.6,371.2 243.3,370.2C244,369.2 246.9,364.7 247.5,364C248.1,363.3 250,362 250.5,362C251,362 252.4,362.8 253.6,363.6C254.8,364.4 263.9,371.1 266,372.3C268.1,373.5 277.9,378.3 280,378.8C282.1,379.3 290.4,378.8 292.4,378.4C294.4,378 302.6,374.8 304.7,374.3C306.8,373.8 317.3,372.9 319,372.2C320.7,371.5 325.3,367.1 326.3,366C327.3,364.9 330.6,359.6 331.5,358.8C332.4,358 336.9,355.9 337.7,355.7C338.5,355.5 341.4,355.5 341.8,355.7C342.2,355.9 343,357.6 342.8,357.8C342.6,358 339.9,358.5 339.7,358.8C339.5,359.1 339.5,361.8 340,362C340.5,362.2 345.1,360.7 346,361C346.9,361.3 350.5,365.2 351,366C351.5,366.8 351.6,370.5 352,371.2C352.4,371.9 355.6,374.2 356.2,374.3C356.8,374.4 358.8,372.3 359.3,372.2C359.8,372.1 361.5,373 362.4,372.6C363.3,372.2 369.4,367.8 370.6,367C371.8,366.2 376.2,362.4 377.4,362.5C378.6,362.6 383.6,367.7 385,368.7C386.4,369.7 393.9,374.3 395.4,375.3C396.9,376.3 402.5,380.5 403.6,381.5C404.7,382.5 408.2,386.9 408.7,387.7C409.2,388.5 410.6,390.8 410.4,391.2C410.2,391.6 406.2,392.3 405.7,392.8C405.2,393.3 404.5,396.7 404.6,398C404.7,399.3 406.1,407.5 406.7,409.3C407.3,411.1 411,419 411.8,420.6C412.6,422.2 416.3,428 417,428.9C417.7,429.8 419.1,431.3 420,432C420.9,432.7 427,437.3 428.3,438C429.6,438.7 435.8,441.1 436.6,441.2C437.4,441.3 437.9,439.7 438.6,439.8C439.3,439.9 443.5,442.1 444.8,442.3C446.1,442.5 453.6,441.8 455,441.9C456.4,442 461.5,443.7 462.3,443.9C463.1,444.1 464.7,443.7 465.4,443.9C466.1,444.1 469.8,446.9 470.5,447C471.2,447.1 474.3,445.9 474.7,445.4C475.1,444.9 475.3,440.8 475.7,440.2C476.1,439.6 479.4,437.6 479.8,438.1C480.2,438.6 480.5,445.3 480.8,446C481.1,446.7 482.8,447.5 483,446.8C483.2,446.1 483.3,438 483.5,437.1C483.7,436.2 485.6,436.1 486,436.1C486.4,436.1 487.7,435.7 488,436.7C488.3,437.7 489.2,447.6 489.6,449.1C490,450.6 492.1,454.7 492.7,455.3C493.3,455.9 496.3,457.2 496.8,457C497.3,456.8 498.5,453.1 498.9,452.8C499.3,452.5 501.1,452.4 501.4,452.8C501.7,453.2 502.5,457.9 503,458.4C503.5,458.9 506.6,459.5 507.1,459.4C507.6,459.3 508.5,457.1 509.2,457C509.9,456.9 514.2,458.3 515.4,458.4C516.6,458.5 522.3,458 523.6,457.8C524.9,457.6 530.5,455.9 531.8,455.3C533.1,454.7 539,451 540.1,450.2C541.2,449.4 544.6,445.4 545.2,445.4C545.8,445.4 547,449.6 547.3,449.6C547.6,449.6 548.4,445.7 548.7,445C549,444.3 551.1,441.8 551.4,440.9C551.7,440 552.1,434.8 552.4,434.3C552.7,433.8 555,434.3 555.6,434.5C556.2,434.7 559,436.4 559.7,436.6C560.4,436.8 564.4,436.2 564.9,436.6C565.4,437 565.4,441.3 565.5,441.3C565.6,441.3 565.4,437.1 566.3,436.6C567.2,436.1 575.3,434.2 576.2,435C577.1,435.8 577,445.6 577.2,446.5C577.4,447.4 579.1,446.7 579.3,446C579.5,445.3 579.3,438.7 580,438.2C580.7,437.7 587.7,439.9 588.6,439.9C589.5,439.9 590.9,438.5 591.7,438.2C592.5,437.9 597.3,436.3 598.9,436.2C600.5,436.1 609.9,437.1 611.2,437.2C612.5,437.3 614,437.9 615,437.7C616,437.5 622.3,435.2 624,434.7C625.7,434.2 634.5,432.1 635.9,431.7C637.3,431.3 640.8,430.5 641.9,430.2C643,429.9 648.3,428.3 649.4,427.9C650.5,427.5 654.6,426.1 655.4,425.7C656.2,425.3 659.5,423.9 659.9,423.4C660.3,422.9 659.8,419.2 659.9,419C660,418.8 661,420 661.4,420.4C661.8,420.8 664.5,423.2 665.2,423.4C665.9,423.6 669.6,422.9 670.4,422.7C671.2,422.5 675.8,421.6 675.7,421.2C675.6,420.8 670.7,418.7 669.7,418.2C668.7,417.7 663.7,415.7 662.9,415.2C662.1,414.7 660.2,412.1 659.9,411.4C659.6,410.7 659.4,407 659.2,406.2C659,405.4 657.4,402.3 656.9,401.7C656.4,401.1 653,399.1 652.4,398.7C651.8,398.3 649.7,396.9 649.4,396.4C649.1,395.9 648.6,392.9 648.7,392.7C648.8,392.5 650.4,394 650.9,394.2C651.4,394.4 654.7,395.1 655.4,395C656.1,394.9 659.1,393.8 659.9,393.4C660.7,393 665.4,390.8 665.9,390.4C666.4,390 666.3,388.6 666.7,388.2C667.1,387.8 670.6,386.5 671.2,386C671.8,385.5 674,382.1 674.2,381.4C674.4,380.7 673.8,377.7 673.4,377C673,376.3 670.2,372.9 669.7,372.4C669.2,371.9 667,371.3 666.7,371C666.4,370.7 666.4,368.3 665.9,368.2C665.4,368.1 660.6,369.7 659.9,370.2C659.2,370.7 657.3,373.4 656.9,374C656.5,374.6 655,377.1 654.7,377.2C654.4,377.3 652.8,376.1 652.7,375.4C652.6,374.7 652.9,369 653.2,368C653.5,367 657,363.4 656.9,362.7C656.8,362 653,360.1 652.4,359.7C651.8,359.3 649.9,358.5 649.7,358.2C649.5,357.9 649.9,356.2 650.2,356C650.5,355.8 653.4,356.1 653.9,356C654.4,355.9 655.5,354.5 656.2,354.2C656.9,353.9 662.1,352.5 662.9,352.2C663.7,351.9 665.4,350.8 665.9,350C666.4,349.2 668.4,343.8 668.9,342.5C669.4,341.2 671.4,334.7 671.9,333.5C672.4,332.3 674.4,328.3 674.6,327.5C674.8,326.7 675,324.7 675,323.6C675,322.5 674.5,314.9 674,313.3C673.5,311.7 669.9,304.1 669,303C668.1,301.9 664.1,299.1 662.7,299C661.3,298.9 652.3,301.7 651.4,301.4C650.5,301.1 650.4,296.7 651.4,295.8C652.4,294.9 662.8,290.5 663.8,289.6C664.8,288.7 663.6,285.2 663.8,284.5C664,283.8 665.4,281 666.9,280.4C668.4,279.8 680.2,276.9 682.3,276.7C684.4,276.5 691.7,277.8 692.6,278.3C693.5,278.8 691.4,281.2 693.6,282.4C695.8,283.6 717.1,291.8 720,292.7C722.9,293.6 728.2,294 730.3,294.2C732.4,294.4 744.1,294.8 745.7,295.2C747.3,295.6 749.7,297.6 750.9,299C752.1,300.4 759.6,311.2 761.2,313.3C762.8,315.4 769.9,323.1 771.5,324.7C773.1,326.3 780.2,331.9 781.8,332.9C783.4,333.9 790,337 792,337.6C794,338.2 804.3,340.2 806.5,340.5C808.7,340.8 818.2,341.7 820,341.6C821.8,341.5 827.5,339.6 829,339C830.5,338.4 837.6,334.5 838.4,334C839.2,333.5 837.4,332.9 839.5,332.3C841.6,331.7 861.2,327.4 864.2,326.7C867.2,326 874.6,323.8 876.6,323.2C878.6,322.6 886.6,320.1 888.9,319.5C891.2,318.9 903.1,316.3 905.4,316C907.7,315.7 916.4,315.4 917.8,315.4C919.2,315.4 922.3,316.4 923,316.4C923.7,316.4 925.3,315 926,315C926.7,315 931.5,316.3 932,316.4"/>
<path stroke-width="2.1" d="M201.5,170.3L207,171L214,172.5L218,171.5L222,175L229,177.5L222,176.3L214,174.2L207,172.8L201.5,170.3M235,178.3L240,177.8L246,179.2L240,179.8L235,178.3M317.5,231.5L322,227.5L328,224.8L335.5,223.8L330,226.5L324,229L317.5,231.5"/>
<ellipse cx="293.4" cy="144" rx="1.6" ry="2.3" transform="rotate(10 293.4 144)" fill="#000" stroke="none"/>
<ellipse cx="273.3" cy="150.2" rx="2.1" ry="1.6" transform="rotate(-30 273.3 150.2)" fill="#000" stroke="none"/>
<ellipse cx="311" cy="226.8" rx="2.6" ry="1.6" transform="rotate(30 311 226.8)" fill="#000" stroke="none"/>
<ellipse cx="306.8" cy="232.2" rx="1.6" ry="2.2" transform="rotate(10 306.8 232.2)" fill="#000" stroke="none"/>
<ellipse cx="294.4" cy="289.8" rx="3.4" ry="1.7" transform="rotate(50 294.4 289.8)" stroke-width="1.6"/>
<ellipse cx="302.7" cy="295.8" rx="2.6" ry="1.8" transform="rotate(30 302.7 295.8)" stroke-width="1.6"/>
<ellipse cx="335.2" cy="302.4" rx="2.8" ry="1.7" transform="rotate(15 335.2 302.4)" stroke-width="1.6"/>
<ellipse cx="389.3" cy="329.3" rx="3.2" ry="3.8" transform="rotate(-10 389.3 329.3)" stroke-width="1.6"/>
<ellipse cx="402.6" cy="331.5" rx="3.8" ry="2.6" transform="rotate(20 402.6 331.5)" stroke-width="1.6"/>
<ellipse cx="467.5" cy="355.7" rx="2.4" ry="1.8" transform="rotate(0 467.5 355.7)" fill="#000" stroke="none"/>
<ellipse cx="426.7" cy="381" rx="2.1" ry="1.9" transform="rotate(0 426.7 381)" fill="#000" stroke="none"/>
<ellipse cx="427.3" cy="386.3" rx="1.8" ry="1.9" transform="rotate(0 427.3 386.3)" fill="#000" stroke="none"/>
<ellipse cx="437.6" cy="383.1" rx="2.0" ry="1.9" transform="rotate(0 437.6 383.1)" fill="#000" stroke="none"/>
<ellipse cx="523" cy="314" rx="3.0" ry="2.6" transform="rotate(35 523 314)" stroke-width="1.6"/>
<ellipse cx="525.4" cy="337.6" rx="1.6" ry="1.6" transform="rotate(0 525.4 337.6)" fill="#000" stroke="none"/>
<ellipse cx="238.7" cy="313.6" rx="1.6" ry="2.8" transform="rotate(0 238.7 313.6)" stroke-width="1.6"/>
<ellipse cx="267.5" cy="194.6" rx="3.2" ry="1.6" transform="rotate(25 267.5 194.6)" stroke-width="1.6"/>
</g>
<text x="735" y="1052.6" font-size="10.5" fill="#000">©Sub Bidang Prediksi Cuaca BMKG, 2026</text>
</g>
<rect x="62.5" y="132.5" width="871" height="924" fill="none" stroke="#000" stroke-width="3"/>
<g shape-rendering="crispEdges">
<rect x="972" y="226" width="16" height="32.4" fill="#ffffff"/>
<rect x="972" y="258.4" width="16" height="96" fill="#b2f8c8"/>
<rect x="972" y="354.4" width="16" height="96" fill="#66ee78"/>
<rect x="972" y="450.4" width="16" height="96" fill="#dcdcfc"/>
<rect x="972" y="546.4" width="16" height="96" fill="#b4b4fc"/>
<rect x="972" y="642.4" width="16" height="96" fill="#8484fc"/>
<rect x="972" y="738.4" width="16" height="96" fill="#e682e6"/>
<rect x="972" y="834.4" width="16" height="96" fill="#c85ac8"/>
<rect x="972" y="930.4" width="16" height="32.6" fill="#962d96"/>
</g>
<rect x="970.5" y="224.5" width="19" height="740" fill="none" stroke="#000" stroke-width="3"/>
<path d="M991,258.4H1002" stroke="#000" stroke-width="3" fill="none"/>
<text x="1013.6" y="264.5" font-size="16">0.0</text>
<path d="M991,354.4H1002" stroke="#000" stroke-width="3" fill="none"/>
<text x="1013.6" y="360.5" font-size="16">-1.0</text>
<path d="M991,450.4H1002" stroke="#000" stroke-width="3" fill="none"/>
<text x="1013.6" y="456.5" font-size="16">-2.0</text>
<path d="M991,546.4H1002" stroke="#000" stroke-width="3" fill="none"/>
<text x="1013.6" y="552.5" font-size="16">-3.0</text>
<path d="M991,642.4H1002" stroke="#000" stroke-width="3" fill="none"/>
<text x="1013.6" y="648.5" font-size="16">-4.0</text>
<path d="M991,738.4H1002" stroke="#000" stroke-width="3" fill="none"/>
<text x="1013.6" y="744.5" font-size="16">-5.0</text>
<path d="M991,834.4H1002" stroke="#000" stroke-width="3" fill="none"/>
<text x="1013.6" y="840.5" font-size="16">-6.0</text>
<path d="M991,930.4H1002" stroke="#000" stroke-width="3" fill="none"/>
<text x="1013.6" y="936.5" font-size="16">-7.0</text>
<path d="M980,1H1054V207L1017,157.5L980,207Z" fill="#0067a5"/>
<text transform="translate(1030.6,99.5) rotate(-90) scale(1.01,1.025)" font-size="39" font-weight="bold" fill="#fff">IFS</text>
<text x="53" y="356.5" font-size="16.3" text-anchor="end">6°S</text>
<text x="661.7" y="1079" font-size="16.6" text-anchor="middle">107°E</text>
<text x="150.7" y="45.2" font-size="27.6" font-weight="bold">Prediksi Lifted Index</text>
<text x="150.4" y="88.6" font-size="20.9" font-weight="bold">Wilayah Jabodetabek</text>
<text x="932.6" y="44.8" font-size="17.33" font-weight="bold" text-anchor="end" xml:space="preserve">Berlaku:  05 Februari 2026 18 UTC</text>
<text x="933" y="88.8" font-size="17.33" font-weight="bold" font-style="italic" text-anchor="end" xml:space="preserve">Data Inisial:  28 Februari 2026 12 UTC</text>
<text x="61.8" y="1101.2" font-size="17.5">Model: IFS 0.125</text>
<text x="933.2" y="1101.2" font-size="17.42" text-anchor="end">Sumber: CIPS BMKG</text>
<g><defs><clipPath id="lc"><circle cx="85" cy="53.2" r="30.2"/></clipPath></defs><g clip-path="url(#lc)"><path fill="#0a32c8" d="M50,20H120V28H50ZM50,31.7H120V36.2H50ZM50,39H120V42H50ZM101.2,44.1H120V45.9H103ZM110,47.2H120V49H111.5Z"/><g fill="#fff"><ellipse cx="79.3" cy="42.3" rx="10.6" ry="8.6"/><ellipse cx="62.8" cy="42.6" rx="4" ry="2.6"/><ellipse cx="95.4" cy="42.6" rx="5" ry="2.6"/><ellipse cx="105.2" cy="46.3" rx="3.3" ry="1.6"/><path d="M99,42L103,44.1L101,44.1L98,42Z"/></g><rect x="50" y="52.8" width="70" height="1.4" fill="#6a6a6a"/><path fill="#0a960a" d="M50,57.9L70.8,57.9L71.7,58.9L50,58.9ZM50,60.1L72.9,60.1L74.9,62.3L50,62.3ZM50,64.3L76.8,64.3L79.6,67.4L50,67.4ZM50,70.5L82.5,70.5L86.4,74.7L50,74.7ZM50,78.7L90.2,78.7L95.1,84L50,84ZM74.7,62.1L120,62.1L120,63.2L75.7,63.2ZM77.2,64.8L120,64.8L120,66.3L78.6,66.3ZM80.7,68.5L120,68.5L120,71.6L83.5,71.6ZM86.4,74.7L120,74.7L120,78.7L90.2,78.7Z"/><path fill="#6cc46c" d="M75.7,63.2L120,63.2L120,64.8L77.2,64.8Z"/></g><text transform="translate(85,97.8) scale(1,1.09)" font-size="15.2" font-weight="bold" text-anchor="middle">BMKG</text></g>
</svg>
</body></html>
